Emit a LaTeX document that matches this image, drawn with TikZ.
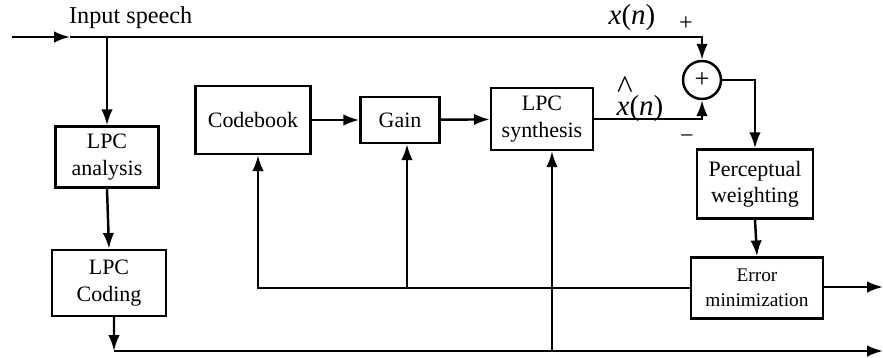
\documentclass[tikz,border=0pt]{standalone}
\usepackage{fontspec}
\setmainfont{Liberation Serif}
\usepackage{tikz}
\usetikzlibrary{arrows.meta}

\begin{document}
\begin{tikzpicture}[->,>={Latex[length=9pt,width=6.5pt]},x=0.02cm,y=-0.02cm,line width=1.4pt,
				block/.style={rectangle,draw,align=center,inner sep=2pt,
					font=\fontsize{12.5}{15}\selectfont},
				sumnode/.style={circle,draw,inner sep=0pt,minimum size=0.76cm,
					font=\fontsize{15}{15}\selectfont},
				lbl/.style={font=\fontsize{13.8}{16}\selectfont},
				sig/.style={font=\fontsize{16.5}{19}\selectfont}]

				\useasboundingbox (0,0) rectangle (883,358);

				% blocks
				\node[block,minimum width=2.06cm,minimum height=1.22cm] (ana) at (107,157) {LPC\\analysis};
				\node[block,minimum width=2.28cm,minimum height=1.32cm] (cod) at (109,283) {LPC\\Coding};
				\node[block,minimum width=2.3cm,minimum height=1.36cm] (cb) at (253,120) {Codebook};
				\node[block,minimum width=1.58cm,minimum height=0.92cm] (gain) at (400,120) {Gain};
				\node[block,minimum width=2.04cm,minimum height=1.24cm] (syn) at (542,119) {LPC\\synthesis};
				\node[sumnode] (sum) at (702,80) {+};
				\node[block,minimum width=2.32cm,minimum height=1.38cm] (pw) at (755,184) {Perceptual\\weighting};
				\node[block,minimum width=2.64cm,minimum height=1.22cm,
					font=\fontsize{11}{14}\selectfont] (err) at (757,288) {Error\\minimization};

				% free ends
				\coordinate (in) at (12,37);
				\coordinate (inarr) at (70,37);
				\coordinate (tap) at (107,37);
				\coordinate (bus) at (114,351);
				\coordinate (busend) at (883,351);
				\coordinate (syntap) at (552,351);
				\coordinate (errout) at (883,287);

				% labels
				\node[lbl,anchor=west] (inlbl) at (62,18) {Input speech};
				\node[sig] (xlbl) at (632,18) {\textit{x}(\textit{n})};
				\node[lbl] (plus) at (686,24) {+};
				\node[sig,inner sep=1pt] (xhlbl) at (640,99) {\rlap{\hspace{0.02em}\raisebox{0.6em}{\fontsize{19}{19}\selectfont\^{}}}\textit{x}(\textit{n})};
				\node[lbl] (minus) at (687,139) {−};

				% input path
				\draw (in) -- (inarr);
				\draw (inarr) -| (sum.north);
				\draw (tap) -- (ana.north);
				\draw (ana.south) -- (cod.north);
				\draw ([xshift=0.1cm]cod.south) -- (bus);
				\draw (bus) -- (busend);

				% synthesis chain
				\draw (cb) -- (gain);
				\draw (gain) -- (syn);
				\draw (syn.east) -| (sum.south);
				\draw (sum.east) -| (pw.north);
				\draw (pw.south) -- (err.north);
				\draw (err.east |- errout) -- (errout);

				% feedback
				\draw (err.west) -| ([xshift=0.1cm]cb.south);
				\draw ([xshift=0.14cm]gain.south |- err.west) -- ([xshift=0.14cm]gain.south);
				\draw (syntap) -- (syntap |- syn.south);

			\end{tikzpicture}
\end{document}
